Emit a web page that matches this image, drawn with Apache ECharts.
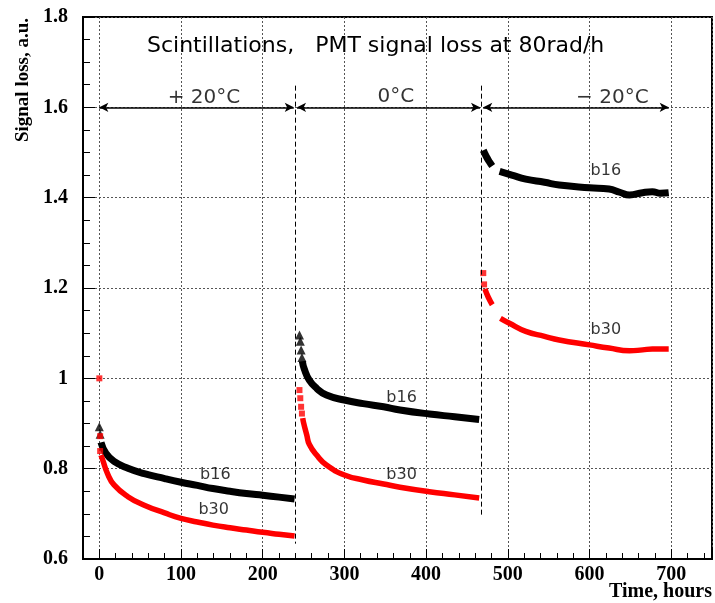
<!DOCTYPE html>
<html>
<head>
<meta charset="utf-8">
<script src="https://cdn.jsdelivr.net/npm/echarts@6/dist/echarts.min.js"></script>
<style>
  html, body { margin: 0; padding: 0; background: #fff; }
  #chart { width: 715px; height: 603px; }
</style>
</head>
<body>
<div id="chart"></div>
<script>
// time in hours, signal loss in a.u.
// b16 = black triangles, b30 = red squares; three temperature runs
var b16Start1 = [[0, 0.893], [1, 0.876]];
var b16Run1 = [[2, 0.858], [8, 0.834], [18, 0.816], [35, 0.801], [55, 0.789], [80, 0.778], [100, 0.770], [120, 0.763], [139, 0.756], [160, 0.750], [180, 0.745], [200, 0.741], [220, 0.737], [239, 0.733]];
var b16Start2 = [[245, 1.096], [246, 1.082], [247, 1.063], [248, 1.046]];
var b16Run2 = [[248.5, 1.038], [251, 1.020], [257, 0.996], [266, 0.978], [278, 0.963], [300, 0.952], [323, 0.944], [348, 0.937], [368, 0.930], [404, 0.921], [435, 0.915], [465, 0.909]];
var b16Run3a = [[470, 1.505], [474, 1.490], [478, 1.478], [481, 1.470]];
var b16Run3b = [[490, 1.458], [505, 1.450], [522, 1.441], [545, 1.434], [563, 1.428], [600, 1.422], [624, 1.419], [637, 1.412], [649, 1.406], [665, 1.411], [677, 1.413], [687, 1.410], [697, 1.411]];

var b30Start1 = [[0, 1.0], [1, 0.872], [1, 0.839]];
var b30Run1 = [[2, 0.830], [4, 0.820], [10, 0.789], [18, 0.764], [35, 0.738], [55, 0.719], [80, 0.702], [100, 0.690], [120, 0.682], [139, 0.675], [160, 0.669], [180, 0.664], [200, 0.659], [220, 0.655], [239, 0.651]];
var b30Start2 = [[245, 0.974], [246, 0.956], [247, 0.937], [248, 0.922]];
var b30Run2 = [[249, 0.912], [250, 0.902], [254, 0.874], [257, 0.854], [266, 0.830], [278, 0.808], [300, 0.786], [323, 0.775], [348, 0.766], [368, 0.759], [404, 0.749], [435, 0.742], [465, 0.735]];
var b30Start3 = [[470, 1.233], [471, 1.208]];
var b30Run3a = [[472, 1.198], [476, 1.180], [481, 1.163]];
var b30Run3b = [[491, 1.133], [502, 1.122], [522, 1.104], [545, 1.093], [563, 1.085], [600, 1.074], [624, 1.067], [649, 1.061], [665, 1.063], [677, 1.065], [697, 1.065]];

var curveLabels = [
  { name: 'b16', value: [142, 0.787] },
  { name: 'b30', value: [140, 0.708] },
  { name: 'b16', value: [370, 0.957] },
  { name: 'b30', value: [370, 0.787] },
  { name: 'b16', value: [620, 1.459] },
  { name: 'b30', value: [620, 1.108] }
];
var tempLabels = [
  { name: '+ 20°C', value: [128, 1.622] },
  { name: '0°C', value: [363, 1.624] },
  { name: '− 20°C', value: [628, 1.622] }
];
// run boundaries (h) and arrow spans at 1.6
var runEdges = [[240, 1.648, 0.634], [468, 1.648, 0.695]];
var arrowSpans = [[0, 238], [242, 466], [470, 697]];

var xTicks = ['0', '100', '200', '300', '400', '500', '600', '700'];

var chart = echarts.init(document.getElementById('chart'));

function band(data, color, width) {
  return {
    type: 'line', data: data, symbol: 'none', smooth: 0.5,
    lineStyle: { color: color, width: width, join: 'round' }, z: 3, silent: true
  };
}
function dots(data, shape, color, size) {
  return {
    type: 'scatter', data: data, symbol: shape, symbolSize: size,
    itemStyle: { color: color }, z: 4, silent: true
  };
}

var serif = '"Liberation Serif", "Times New Roman", serif';
var sans = '"DejaVu Sans", sans-serif';

var option = {
  animation: false,
  backgroundColor: '#fff',
  title: {
    text: 'Scintillations,   PMT signal loss at 80rad/h',
    left: 142, top: 30,
    textStyle: { fontFamily: sans, fontWeight: 'normal', fontSize: 22, color: '#000' }
  },
  grid: {
    left: 83, right: 3, top: 17, bottom: 44,
    show: true, borderColor: '#000', borderWidth: 2
  },
  xAxis: {
    type: 'value', min: -20, max: 750, splitNumber: 8,
    axisLine: { show: true, onZero: false, lineStyle: { color: '#000', width: 2 } },
    axisTick: { show: true, inside: true, length: 10, lineStyle: { color: '#000' } },
    minorTick: { show: true, splitNumber: 5, length: 6, lineStyle: { color: '#000' } },
    axisLabel: {
      showMinLabel: false, showMaxLabel: false, margin: 6,
      formatter: function (v) { return xTicks.indexOf(String(v)) >= 0 ? String(v) : ''; },
      fontFamily: serif, fontWeight: 'bold', fontSize: 20, color: '#000'
    },
    splitLine: { show: true, lineStyle: { color: '#555', type: [2, 2], width: 1 } }
  },
  yAxis: {
    type: 'value', min: 0.6, max: 1.8, interval: 0.2,
    axisLine: { show: true, onZero: false, lineStyle: { color: '#000', width: 2 } },
    axisTick: { show: true, inside: true, length: 12, lineStyle: { color: '#000' } },
    minorTick: { show: true, splitNumber: 4, length: 7, lineStyle: { color: '#000' } },
    axisLabel: {
      margin: 15, fontFamily: serif, fontWeight: 'bold', fontSize: 20, color: '#000'
    },
    splitLine: { show: true, lineStyle: { color: '#555', type: [2, 2], width: 1 } }
  },
  graphic: [
    {
      type: 'text', x: 23, y: 80, rotation: Math.PI / 2,
      style: {
        text: 'Signal loss, a.u.', font: 'bold 19px ' + serif, fill: '#000',
        textAlign: 'center', textVerticalAlign: 'middle'
      }
    },
    {
      type: 'text', right: 3, top: 582,
      style: { text: 'Time, hours', font: 'bold 20px ' + serif, fill: '#000' }
    }
  ],
  series: [
    band(b16Run1, '#000', 7),
    band(b16Run2, '#000', 7),
    band(b16Run3a, '#000', 7),
    band(b16Run3b, '#000', 7),
    dots(b16Start1.concat(b16Start2), 'triangle', '#000', 9),
    band(b30Run1, '#ff0000', 5.5),
    band(b30Run2, '#ff0000', 5.5),
    band(b30Run3a, '#ff0000', 5.5),
    band(b30Run3b, '#ff0000', 5.5),
    dots(b30Start1.concat(b30Start2, b30Start3), 'rect', '#ff0000', 6),
    {
      type: 'scatter', data: curveLabels, symbolSize: 0, silent: true, z: 5,
      label: {
        show: true, position: 'inside', formatter: '{b}',
        fontFamily: sans, fontSize: 16, color: '#000'
      }
    },
    {
      type: 'scatter', data: tempLabels, symbolSize: 0, silent: true, z: 5,
      label: {
        show: true, position: 'inside', formatter: '{b}',
        fontFamily: sans, fontSize: 20, color: '#000'
      },
      markLine: {
        silent: true, symbol: ['none', 'none'], label: { show: false },
        lineStyle: { color: '#000', type: [5, 3], width: 1 },
        data: runEdges.map(function (e) {
          return [{ coord: [e[0], e[1]] }, { coord: [e[0], e[2]] }];
        })
      }
    },
    {
      type: 'line', data: [], silent: true,
      markLine: {
        silent: true, symbol: ['arrow', 'arrow'], symbolSize: [7, 9],
        label: { show: false },
        lineStyle: { color: '#000', type: 'solid', width: 1.5 },
        data: arrowSpans.map(function (s) {
          return [{ coord: [s[0], 1.6] }, { coord: [s[1], 1.6] }];
        })
      }
    }
  ]
};

chart.setOption(option);
</script>
</body>
</html>
